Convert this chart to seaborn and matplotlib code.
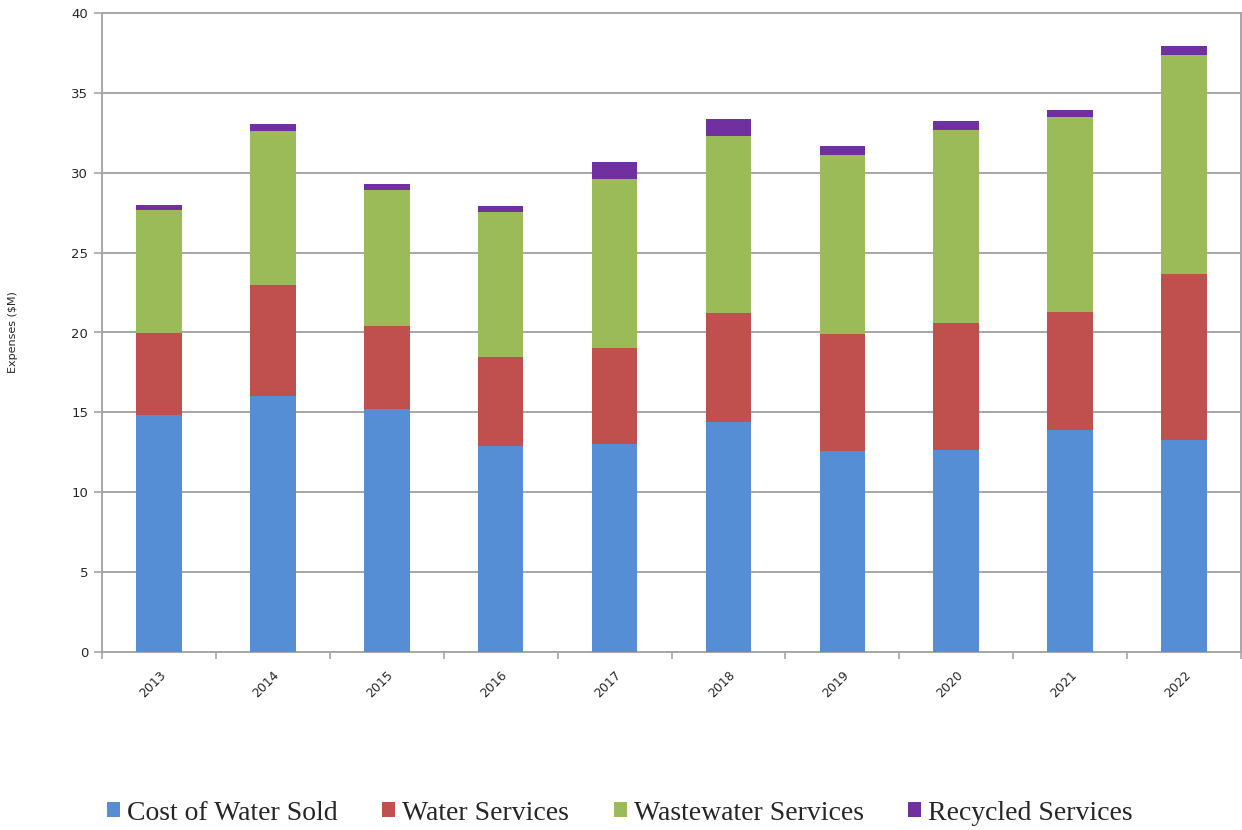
import matplotlib
matplotlib.use("Agg")
import matplotlib.pyplot as plt
from matplotlib.patches import Patch
import numpy as np
import pandas as pd
import seaborn as sns

# Annual expenses by service ($M)
years = ["2013", "2014", "2015", "2016", "2017", "2018", "2019", "2020", "2021", "2022"]
cost_of_water_sold = [14.85, 16.0, 15.2, 12.9, 13.0, 14.4, 12.6, 12.65, 13.9, 13.25]
water_services = [5.1, 7.0, 5.2, 5.55, 6.05, 6.8, 7.3, 7.95, 7.4, 10.4]
wastewater_services = [7.7, 9.6, 8.5, 9.1, 10.55, 11.1, 11.2, 12.1, 12.2, 13.7]
recycled_services = [0.3, 0.45, 0.4, 0.35, 1.05, 1.05, 0.6, 0.55, 0.45, 0.6]

series_names = ["Cost of Water Sold", "Water Services", "Wastewater Services", "Recycled Services"]
series_colors = ["#558ED5", "#C0504D", "#9BBB59", "#7030A0"]

sns.set_theme(style="white")
plt.rcParams["font.family"] = ["DejaVu Sans"]

df = pd.DataFrame({
    "year": years,
    series_names[0]: cost_of_water_sold,
    series_names[1]: water_services,
    series_names[2]: wastewater_services,
    series_names[3]: recycled_services,
})
# cumulative heights for stacking: draw tallest first so lower segments overlay it
cum = df[series_names].cumsum(axis=1)

fig = plt.figure(figsize=(12.42, 8.30), dpi=100)
ax = fig.add_axes([102 / 1242, 1 - 652 / 830, 1139 / 1242, (652 - 13) / 830])

for name, color in reversed(list(zip(series_names, series_colors))):
    sns.barplot(x=df["year"], y=cum[name], color=color, width=0.4,
                saturation=1, ax=ax, zorder=3, linewidth=0)

grid_color = "#A6A6A6"
ax.set_ylim(0, 40)
ax.set_xlim(-0.5, len(years) - 0.5)
ax.set_yticks(np.arange(0, 41, 5))
ax.yaxis.grid(True, color=grid_color, linewidth=1.4, zorder=0)
ax.set_axisbelow(True)
for sp in ax.spines.values():
    sp.set_visible(True)
    sp.set_color(grid_color)
    sp.set_linewidth(1.4)

ax.tick_params(axis="y", which="major", direction="out", length=6, width=1.2,
               color=grid_color, labelsize=9.5, pad=4, left=True)
ax.set_xticks(range(len(years)))
ax.set_xticklabels(years, rotation=45, ha="right", rotation_mode="anchor", fontsize=9)
ax.tick_params(axis="x", which="major", length=0, pad=12)
ax.set_xticks(np.arange(-0.5, len(years), 1), minor=True)
ax.tick_params(axis="x", which="minor", direction="out", length=5, width=1.2,
               color=grid_color, bottom=True)

ax.set_xlabel("")
ax.set_ylabel("Expenses ($M)", fontsize=8)
ax.yaxis.set_label_coords(-84 / 1139, 0.5)

handles = [Patch(facecolor=c, edgecolor="none") for c in series_colors]
fig.legend(handles, series_names, loc="center", bbox_to_anchor=(620 / 1242, 1 - 813 / 830),
           ncol=4, frameon=False, prop={"family": "Liberation Serif", "size": 20},
           handlelength=0.47, handleheight=0.47, handletextpad=0.25, columnspacing=1.6)

fig.savefig("out.png", dpi=100)
